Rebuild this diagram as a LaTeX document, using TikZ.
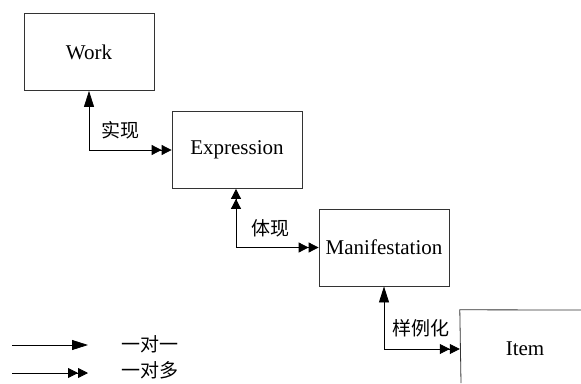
\documentclass[tikz,border=0pt]{standalone}
\usepackage{fontspec}
\setmainfont{Liberation Serif}
\newfontfamily\cjk{Noto Sans CJK SC}
\usetikzlibrary{arrows.meta}
\tikzset{
  boxtext/.style={minimum width=130pt, minimum height=77pt, inner sep=0pt, font=\fontsize{21}{23}\selectfont},
  box/.style={boxtext, draw=black!80, line width=0.8pt},
  conn/.style={line width=0.8pt},
  one/.tip={Triangle[length=16pt,width=10pt]},
  many/.tip={Triangle[length=10pt,width=10pt] Triangle[length=10pt,width=10pt]},
  lbl/.style={font=\cjk\fontsize{19}{21}\selectfont, inner sep=0pt}
}
\begin{document}
\begin{tikzpicture}[x=1pt,y=-1pt]
\fill[white] (0,0) rectangle (581,383);
\useasboundingbox (0,0) rectangle (581,383);
\node[box] (work) at (89,52) {Work};
\node[box] (expr) at (237,150) {Expression};
\node[box] (man) at (384,247.5) {Manifestation};
\node[boxtext, minimum height=78pt] (item) at (525,349) {Item};
\coordinate (itemtr) at (581,310);
\coordinate (itembl) at (461,383);
\draw[draw=black!80, line width=0.8pt] (itemtr) -- (item.north west) -- (itembl);
\draw[conn, {one}-{many}] (work.south) |- (expr.west);
\draw[conn, {many}-{many}] (expr.south -| 236,0) |- (man.west);
\draw[conn, {one}-{many}] (man.south) |- (item.west);
\node[lbl] (l1) at (120,130) {实现};
\node[lbl] (l2) at (270,228) {体现};
\node[lbl] (l3) at (421,328) {样例化};
\coordinate (a1) at (12,345);
\coordinate (b1) at (88,345);
\coordinate (a2) at (12,373);
\coordinate (b2) at (88,373);
\draw[conn, -{one}] (a1) -- (b1);
\draw[conn, -{many}] (a2) -- (b2);
\node[lbl] (t1) at (150,344) {一对一};
\node[lbl] (t2) at (150,370) {一对多};
\end{tikzpicture}
\end{document}
